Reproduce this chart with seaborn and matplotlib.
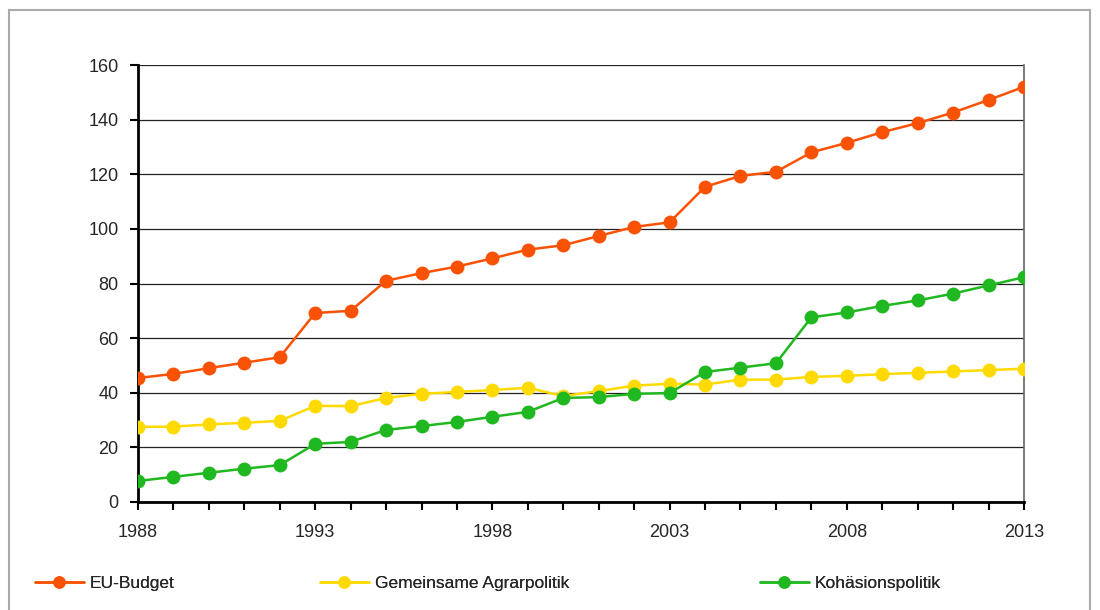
import matplotlib
matplotlib.use("Agg")
import matplotlib.pyplot as plt
import seaborn as sns
import pandas as pd
from matplotlib.patches import Rectangle

years = list(range(1988, 2014))

eu_budget = [45.4, 46.9, 49.0, 51.0, 53.0, 69.2, 70.0, 81.0, 83.8, 86.2, 89.2, 92.4,
             94.0, 97.4, 100.7, 102.4, 115.4, 119.4, 120.9, 128.0, 131.5, 135.4,
             138.7, 142.6, 147.2, 152.0]
agrar = [27.5, 27.6, 28.4, 29.0, 29.7, 35.2, 35.1, 38.1, 39.6, 40.3, 41.0, 41.8,
         38.8, 40.6, 42.6, 43.3, 43.0, 44.8, 44.8, 45.8, 46.2, 46.8, 47.3, 47.8,
         48.3, 48.8]
kohaesion = [7.7, 9.2, 10.7, 12.2, 13.5, 21.3, 22.0, 26.4, 27.8, 29.3, 31.2, 33.0,
             38.1, 38.4, 39.6, 39.9, 47.6, 49.2, 50.8, 67.6, 69.4, 71.8, 73.8, 76.3,
             79.3, 82.3]

series_names = ["EU-Budget", "Gemeinsame Agrarpolitik", "Kohäsionspolitik"]
series_colors = ["#FA5205", "#FFDA00", "#20B820"]

df = pd.DataFrame({
    "Jahr": years * 3,
    "Wert": eu_budget + agrar + kohaesion,
    "Reihe": [series_names[0]] * len(years) + [series_names[1]] * len(years)
             + [series_names[2]] * len(years),
})

sns.set_style("white")
plt.rcParams["font.family"] = ["Liberation Sans", "DejaVu Sans"]

fig = plt.figure(figsize=(11, 6.1), dpi=100)
ax = fig.add_axes([138 / 1100, 1 - 502 / 610, (1024 - 138) / 1100, (502 - 65) / 610])

# outer frame
fig.patches.append(Rectangle((9 / 1100, -0.01), 1081 / 1100, 1 - 10 / 610 + 0.01,
                             transform=fig.transFigure, fill=False,
                             edgecolor="#aaaaaa", linewidth=1.5))

sns.lineplot(data=df, x="Jahr", y="Wert", hue="Reihe", palette=series_colors,
             marker="o", markersize=10, markeredgewidth=0, linewidth=1.8,
             ax=ax, legend=False, zorder=3)

ax.set_xlim(1988, 2013)
ax.set_ylim(0, 160)
ax.set_yticks(range(0, 161, 20))
ax.set_xticks(range(1988, 2014))
ax.set_xticklabels([str(y) if (y - 1988) % 5 == 0 else "" for y in years])
ax.yaxis.grid(True, color="#222222", linewidth=0.9)
ax.xaxis.grid(False)
ax.set_xlabel("")
ax.set_ylabel("")

ax.spines["top"].set_visible(False)
ax.spines["right"].set_color("#666666")
ax.spines["right"].set_linewidth(1.2)
ax.spines["left"].set_color("black")
ax.spines["left"].set_linewidth(2)
ax.spines["bottom"].set_color("black")
ax.spines["bottom"].set_linewidth(2)

ax.tick_params(axis="both", which="both", direction="out", length=6, width=1.5,
               color="black", labelsize=13, left=True, bottom=True)
ax.tick_params(axis="x", pad=10)
ax.tick_params(axis="y", pad=8)

# one legend per entry, placed like the original
legend_x = [35, 320, 760]
for name, color, x in zip(series_names, series_colors, legend_x):
    h = plt.Line2D([], [], color=color, marker="o", markersize=9, markeredgewidth=0,
                   linewidth=1.8)
    leg = fig.legend([h], [name], loc="center left",
                     bbox_to_anchor=(x / 1100, 1 - 583 / 610), frameon=False,
                     fontsize=12.5, handlelength=2.8, handletextpad=0.35,
                     borderpad=0, borderaxespad=0)
    fig.add_artist(leg)

fig.savefig("out.png", dpi=100)
